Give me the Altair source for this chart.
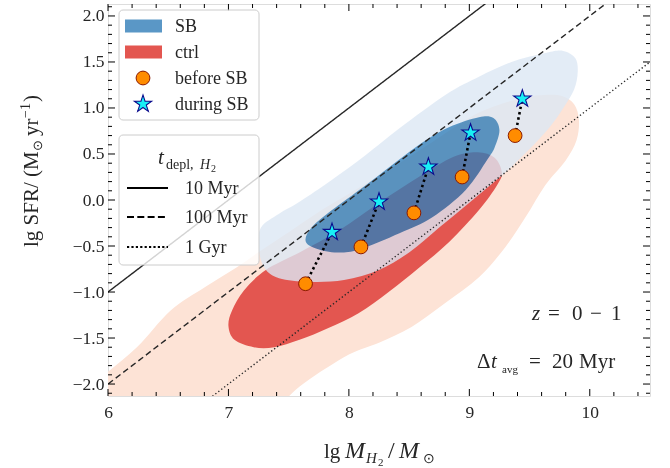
import numpy as np
import pandas as pd
import altair as alt

# ------------------------------------------------------------------ data
# Density contours in the (lg M_H2, lg SFR) plane, each traced as a closed outline.
ctrl_outer_x = [5.70, 5.95, 6.24, 6.52, 6.80, 7.07, 7.28, 7.50, 7.75, 8.08, 8.42, 8.75, 9.08,
                9.41, 9.62, 9.77, 9.87, 9.91, 9.89, 9.80, 9.63, 9.47, 9.30, 9.08, 8.80, 8.52,
                8.25, 8.00, 7.63, 7.40, 7.15, 5.70]
ctrl_outer_y = [-2.20, -1.92, -1.60, -1.20, -0.95, -0.73, -0.54, -0.35, -0.13, 0.13, 0.40, 0.68,
                0.95, 1.10, 1.14, 1.13, 1.04, 0.87, 0.65, 0.43, 0.16, -0.18, -0.51, -0.84, -1.12,
                -1.38, -1.55, -1.68, -1.99, -2.26, -2.55, -2.55]
ctrl_inner_x = [7.00, 7.05, 7.21, 7.38, 7.59, 7.83, 8.08, 8.33, 8.58, 8.83, 9.08, 9.23, 9.27,
                9.21, 9.07, 8.87, 8.58, 8.25, 7.92, 7.59, 7.31, 7.13, 7.03]
ctrl_inner_y = [-1.37, -1.52, -1.60, -1.60, -1.52, -1.39, -1.23, -1.00, -0.74, -0.46, -0.11,
                0.16, 0.30, 0.46, 0.52, 0.47, 0.25, -0.03, -0.33, -0.57, -0.76, -0.98, -1.20]
sb_outer_x = [7.27, 7.42, 7.59, 7.86, 8.14, 8.42, 8.81, 9.08, 9.35, 9.64, 9.78, 9.88, 9.90, 9.87,
              9.78, 9.66, 9.49, 9.29, 9.00, 8.75, 8.50, 8.25, 7.96, 7.67, 7.42, 7.30, 7.25]
sb_outer_y = [-0.30, -0.15, -0.02, 0.22, 0.49, 0.78, 1.15, 1.34, 1.50, 1.60, 1.62, 1.54, 1.39,
              1.20, 1.00, 0.78, 0.54, 0.29, -0.03, -0.30, -0.57, -0.76, -0.87, -0.89, -0.85,
              -0.74, -0.52]
sb_inner_x = [7.64, 7.69, 7.86, 8.14, 8.56, 8.83, 9.08, 9.20, 9.25, 9.21, 9.15, 8.97, 8.69, 8.42,
              8.08, 7.88, 7.71]
sb_inner_y = [-0.44, -0.30, -0.11, 0.16, 0.58, 0.79, 0.90, 0.89, 0.76, 0.57, 0.44, 0.11, -0.19,
              -0.36, -0.54, -0.57, -0.52]

# Mean positions of the starburst galaxies before and during the burst
before_x = [7.64, 8.10, 8.54, 8.94, 9.38]
before_y = [-0.91, -0.51, -0.14, 0.25, 0.70]
during_x = [7.86, 8.25, 8.66, 9.01, 9.44]
during_y = [-0.35, -0.02, 0.36, 0.73, 1.10]

# Constant molecular-gas depletion times (yr)
t_depl_yr = [1e7, 1e8, 1e9]
t_depl_labels = ["10 Myr", "100 Myr", "1 Gyr"]

x_ticks = [6, 7, 8, 9, 10]
y_ticks = [-2.0, -1.5, -1.0, -0.5, 0.0, 0.5, 1.0, 1.5, 2.0]

# ---------------------------------------------------------------- styles
SERIF = "Liberation Serif"
INK = "#262626"
PEACH = "#fde3d6"
RED = "#e35650"
LIGHT_BLUE = "#dce7f4"      # drawn at 0.8 opacity
BLUE_PATCH = "#5a97c6"
# The inner SB band sits inside the outer one; a difference blend with this
# colour turns "outer band at 0.8 alpha" into "inner band at 0.8 alpha"
# whatever lies beneath, so overlaps with the ctrl contours keep their tint.
BLUE_SHIFT = "#895530"

LEFT, TOP, W, H = 108, 4, 542, 392

XS = alt.Scale(domain=[6, 10.5], nice=False, zero=False)
YS = alt.Scale(domain=[-2.13, 2.13], nice=False, zero=False)
AXX = alt.Axis(values=x_ticks, format="d", ticks=False, tickSize=0, domain=False, grid=False,
               labelFont=SERIF, labelFontSize=17.5, labelColor=INK, labelPadding=7,
               labelFlush=False, labelOverlap=False, title=None)
AXY = alt.Axis(values=y_ticks, format=".1f", ticks=False, tickSize=0, domain=False, grid=False,
               labelFont=SERIF, labelFontSize=17.5, labelColor=INK, labelPadding=4,
               labelFlush=False, labelOverlap=False, title=None)
one = pd.DataFrame({"k": [0]})


def X(field):
    return alt.X(f"{field}:Q", scale=XS, axis=AXX)


def Y(field):
    return alt.Y(f"{field}:Q", scale=YS, axis=AXY)


def px(ax, ay):
    return dict(x=alt.value(ax - LEFT), y=alt.value(ay - TOP))


def outline(xs, ys, **mark):
    df = pd.DataFrame({"x": xs, "y": ys, "i": range(len(xs))})
    return alt.Chart(df).mark_line(interpolate="cardinal-closed", strokeOpacity=0,
                                   strokeWidth=0, **mark).encode(
        x=X("x"), y=Y("y"), order=alt.Order("i:Q"))


def text(s, ax, ay, size=18, italic=False, align="left", baseline="alphabetic", angle=0):
    return alt.Chart(one).mark_text(
        text=s, font=SERIF, fontSize=size, fontStyle="italic" if italic else "normal",
        align=align, baseline=baseline, angle=angle, color=INK).encode(**px(ax, ay))


layers = []

# contours
layers.append(outline(ctrl_outer_x, ctrl_outer_y, fill=PEACH, clip=True))
layers.append(outline(ctrl_inner_x, ctrl_inner_y, fill=RED, clip=True))
layers.append(outline(sb_outer_x, sb_outer_y, fill=LIGHT_BLUE, fillOpacity=0.8))
layers.append(outline(sb_inner_x, sb_inner_y, fill=BLUE_SHIFT, blend="difference"))

# constant depletion-time lines
dashes = [[1, 0], [6, 3.5], [1.3, 2.4]]
legend_dashes = [[1, 0], [7, 3.3], [2.2, 2.2]]
for t, dash in zip(t_depl_yr, dashes):
    xs = [5.5, 11.0]
    df = pd.DataFrame({"x": xs, "y": [v - np.log10(t) for v in xs]})
    layers.append(alt.Chart(df).mark_line(color=INK, strokeWidth=1.4, strokeDash=dash,
                                          clip=True).encode(x=X("x"), y=Y("y")))

# before -> during connectors
pairs = pd.DataFrame({
    "pair": list(range(5)) * 2,
    "x": before_x + during_x,
    "y": before_y + during_y,
})
layers.append(alt.Chart(pairs).mark_line(color="black", strokeWidth=2.6,
                                         strokeDash=[2.4, 3.0]).encode(
    x=X("x"), y=Y("y"), detail="pair:N"))

STAR = ("M0,-1L0.2245,-0.309L0.9511,-0.309L0.3633,0.118L0.5878,0.809L0,0.382"
        "L-0.5878,0.809L-0.3633,0.118L-0.9511,-0.309L-0.2245,-0.309Z")
CIRCLE_STYLE = dict(shape="circle", filled=True, fill="#ff8c00", stroke="#8b1a00",
                    strokeWidth=1, size=190, opacity=1)
STAR_STYLE = dict(shape=STAR, filled=True, fill="#19f0f5", stroke="#0a0a8c",
                  strokeWidth=1.1, size=330, opacity=1)

layers.append(alt.Chart(pd.DataFrame({"x": before_x, "y": before_y})).mark_point(
    **CIRCLE_STYLE).encode(x=X("x"), y=Y("y")))
layers.append(alt.Chart(pd.DataFrame({"x": during_x, "y": during_y})).mark_point(
    **STAR_STYLE).encode(x=X("x"), y=Y("y")))

# inward tick marks on all four sides
x_all = [round(v, 1) for v in np.arange(6.0, 10.51, 0.2)]
y_all = [round(v, 1) for v in np.arange(-2.1, 2.11, 0.1)]
x_minor = pd.DataFrame({"v": [v for v in x_all if v not in x_ticks]})
x_major = pd.DataFrame({"v": x_ticks})
y_minor = pd.DataFrame({"v": [v for v in y_all if v not in y_ticks]})
y_major = pd.DataFrame({"v": y_ticks})
for df, ln in [(x_major, 7), (x_minor, 4)]:
    for a, b in [(H, H - ln), (0, ln)]:
        layers.append(alt.Chart(df).mark_rule(color="black", strokeWidth=1).encode(
            x=X("v"), y=alt.value(a), y2=alt.value(b)))
for df, ln in [(y_major, 7), (y_minor, 4)]:
    for a, b in [(0, ln), (W, W - ln)]:
        layers.append(alt.Chart(df).mark_rule(color="black", strokeWidth=1).encode(
            y=Y("v"), x=alt.value(a), x2=alt.value(b)))


# legends
def box(x0, y0, x1, y1):
    return alt.Chart(one).mark_rect(fill="white", fillOpacity=0.8, stroke="#cccccc",
                                    strokeWidth=1, cornerRadius=4).encode(
        x=alt.value(x0 - LEFT), x2=alt.value(x1 - LEFT),
        y=alt.value(y0 - TOP), y2=alt.value(y1 - TOP))


def patch(color, yc):
    return alt.Chart(one).mark_rect(fill=color).encode(
        x=alt.value(125 - LEFT), x2=alt.value(162 - LEFT),
        y=alt.value(yc - 6.5 - TOP), y2=alt.value(yc + 6.5 - TOP))


layers += [
    box(119, 10, 259, 120),
    patch(BLUE_PATCH, 26), patch(RED, 52),
    alt.Chart(one).mark_point(**CIRCLE_STYLE).encode(**px(143, 78)),
    alt.Chart(one).mark_point(**STAR_STYLE).encode(**px(143, 104)),
    text("SB", 175, 27, baseline="middle"),
    text("ctrl", 175, 53, baseline="middle"),
    text("before SB", 175, 79, baseline="middle"),
    text("during SB", 175, 105, baseline="middle"),
    box(119, 135, 259, 265),
    text("t", 158, 164, size=21, italic=True),
    text("depl,", 166, 169, size=14),
    text("H", 200, 169, size=14, italic=True),
    text("2", 211, 172, size=10),
]
for yc, lab, dash in zip([188, 217, 247], t_depl_labels, legend_dashes):
    layers.append(alt.Chart(one).mark_rule(color="black", strokeWidth=2.2,
                                           strokeDash=dash).encode(
        x=alt.value(127 - LEFT), x2=alt.value(168 - LEFT), y=alt.value(yc - TOP)))
    layers.append(text(lab, 185, yc + 1, baseline="middle"))

# annotations
layers += [
    text("z", 532, 320, size=21, italic=True),
    text("=", 548, 320, size=21),
    text("0", 572, 320, size=21),
    text("\u2212", 590, 320, size=21),
    text("1", 611, 320, size=21),
    text("\u0394", 477, 368, size=21),
    text("t", 491, 368, size=21, italic=True),
    text("avg", 502, 373, size=11),
    text("=", 529, 368, size=21),
    text("20", 552, 368, size=21),
    text("Myr", 579, 368, size=21),
]

# axis titles
layers += [
    text("lg", 324, 458, size=21),
    text("M", 345, 458, size=24, italic=True),
    text("H", 366, 463, size=15, italic=True),
    text("2", 378, 466, size=11),
    text("/", 388, 458, size=24),
    text("M", 399, 458, size=24, italic=True),
    text("\u2299", 423, 463, size=14),
    text("lg SFR/ (M", 38, 247, size=21, angle=270),
    text("\u2299", 42, 151, size=13, angle=270),
    text("yr", 38, 136, size=21, angle=270),
    text("\u22121", 30, 118, size=14, angle=270),
    text(")", 38, 102, size=21, angle=270),
]

chart = alt.layer(*layers).properties(
    width=W, height=H,
    autosize="none",
    padding={"left": LEFT, "top": TOP, "right": 670 - LEFT - W, "bottom": 468 - TOP - H},
).configure_view(stroke="black", strokeWidth=1).configure(background="white")

chart.save("out.html", embed_options={"renderer": "svg", "actions": False})
